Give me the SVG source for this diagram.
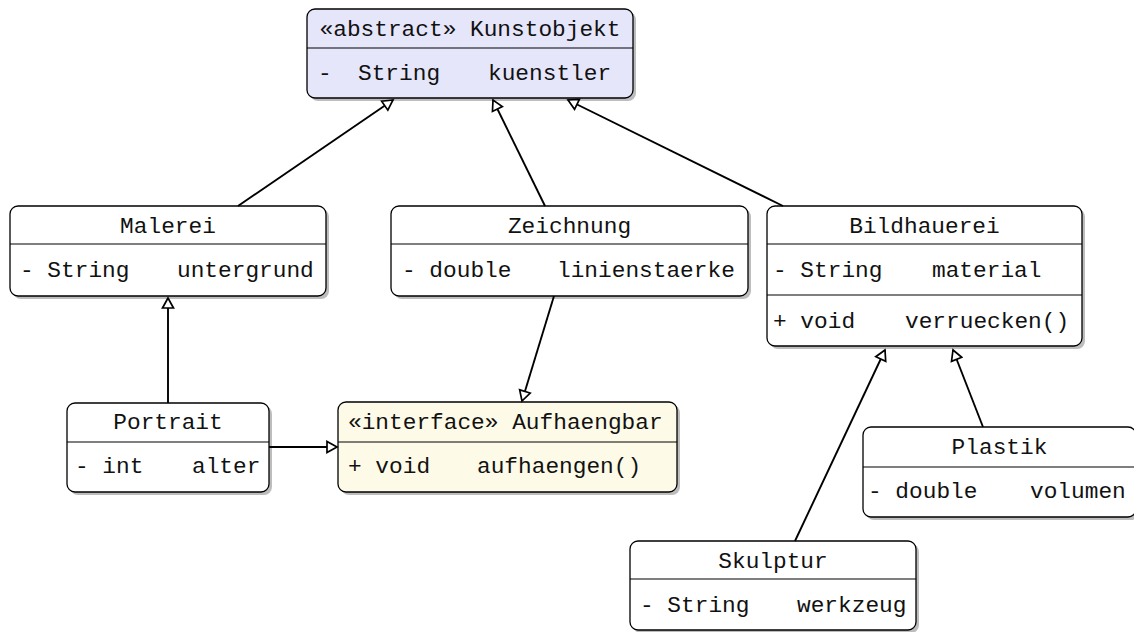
<svg xmlns="http://www.w3.org/2000/svg" width="1134" height="632" viewBox="0 0 1134 632">
<style>
.box{stroke:#000;stroke-width:1.3;fill:#fff}
.shadow{fill:#bdbdbd;stroke:none}
.div{stroke:#000;stroke-width:1.1}
text{font-family:"Liberation Mono","DejaVu Sans Mono",monospace;font-size:22.8px;fill:#111}
.c{text-anchor:middle}
.con{stroke:#000;stroke-width:1.9;fill:none;marker-end:url(#tri)}
</style>
<defs>
<marker id="tri" markerUnits="userSpaceOnUse" viewBox="-12 -7 14 14" refX="0" refY="0" markerWidth="14" markerHeight="14" orient="auto">
<path d="M0,0 L-10,-5.5 L-10,5.5 Z" fill="#fff" stroke="#000" stroke-width="1.7" stroke-linejoin="miter"/>
</marker>
</defs>
<rect width="1134" height="632" fill="#fff"/>

<g id="Kunstobjekt">
<rect class="shadow" x="310" y="12" width="326" height="89" rx="8"/>
<rect class="box" x="307" y="9" width="326" height="89" rx="8" style="fill:#e6e6fb"/>
<line class="div" x1="307" y1="48" x2="633" y2="48"/>
<text class="c" x="470" y="36">«abstract» Kunstobjekt</text>
<text x="318" y="80">-</text><text x="358" y="80">String</text><text x="488" y="80">kuenstler</text>
</g>

<g id="Malerei">
<rect class="shadow" x="13" y="209" width="316" height="90" rx="8"/>
<rect class="box" x="10" y="206" width="316" height="90" rx="8"/>
<line class="div" x1="10" y1="244" x2="326" y2="244"/>
<text class="c" x="168" y="233">Malerei</text>
<text x="20" y="277">- String</text><text x="177" y="277">untergrund</text>
</g>

<g id="Zeichnung">
<rect class="shadow" x="394" y="209" width="357" height="90" rx="8"/>
<rect class="box" x="391" y="206" width="357" height="90" rx="8"/>
<line class="div" x1="391" y1="244" x2="748" y2="244"/>
<text class="c" x="569.5" y="233">Zeichnung</text>
<text x="402" y="277">- double</text><text x="557" y="277">linienstaerke</text>
</g>

<g id="Bildhauerei">
<rect class="shadow" x="770" y="209" width="315" height="140" rx="8"/>
<rect class="box" x="767" y="206" width="315" height="140" rx="8"/>
<line class="div" x1="767" y1="244" x2="1082" y2="244"/>
<line class="div" x1="767" y1="295" x2="1082" y2="295"/>
<text class="c" x="924.5" y="233">Bildhauerei</text>
<text x="773" y="277">- String</text><text x="932" y="277">material</text>
<text x="773" y="328">+ void</text><text x="905" y="328">verruecken()</text>
</g>

<g id="Portrait">
<rect class="shadow" x="70" y="406" width="202" height="89" rx="8"/>
<rect class="box" x="67" y="403" width="202" height="89" rx="8"/>
<line class="div" x1="67" y1="442" x2="269" y2="442"/>
<text class="c" x="168" y="429">Portrait</text>
<text x="75" y="473">- int</text><text x="192" y="473">alter</text>
</g>

<g id="Aufhaengbar">
<rect class="shadow" x="341" y="405" width="339" height="90" rx="8"/>
<rect class="box" x="338" y="402" width="339" height="90" rx="8" style="fill:#fefae8"/>
<line class="div" x1="338" y1="442" x2="677" y2="442"/>
<text x="348" y="429">«interface» Aufhaengbar</text>
<text x="348" y="473">+ void</text><text x="477" y="473">aufhaengen()</text>
</g>

<g id="Plastik">
<rect class="shadow" x="866" y="430" width="273" height="90" rx="8"/>
<rect class="box" x="863" y="427" width="273" height="90" rx="8"/>
<line class="div" x1="863" y1="467" x2="1136" y2="467"/>
<text class="c" x="999.5" y="454">Plastik</text>
<text x="868" y="498">- double</text><text x="1030" y="498">volumen</text>
</g>

<g id="Skulptur">
<rect class="shadow" x="633" y="544" width="286" height="89" rx="8"/>
<rect class="box" x="630" y="541" width="286" height="89" rx="8"/>
<line class="div" x1="630" y1="579" x2="916" y2="579"/>
<text class="c" x="773" y="568">Skulptur</text>
<text x="640" y="612">- String</text><text x="797" y="612">werkzeug</text>
</g>

<g id="connectors">
<line class="con" x1="238" y1="206" x2="393" y2="100"/>
<line class="con" x1="545" y1="206" x2="493" y2="100"/>
<line class="con" x1="783" y1="206" x2="568" y2="100"/>
<line class="con" x1="168" y1="403" x2="168" y2="298"/>
<line class="con" x1="554" y1="296" x2="522" y2="401"/>
<line class="con" x1="269" y1="447" x2="337" y2="447"/>
<line class="con" x1="795" y1="541" x2="885" y2="350"/>
<line class="con" x1="983" y1="427" x2="953" y2="350"/>
</g>
</svg>
